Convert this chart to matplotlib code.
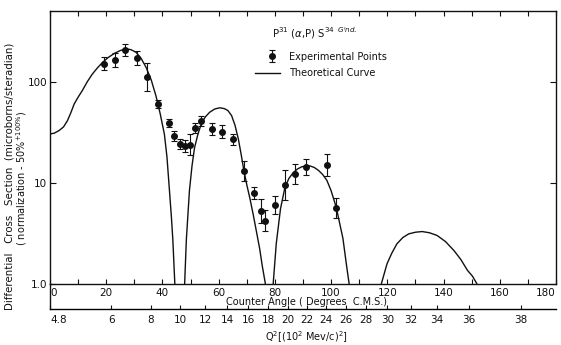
import numpy as np
import matplotlib
matplotlib.use("Agg")
import matplotlib.pyplot as plt
from matplotlib.lines import Line2D

# ---------------- data ----------------
exp_angle = [19.3, 23.1, 26.8, 30.8, 34.5, 38.3, 42.3, 44.0, 46.1, 48.0, 49.9, 51.5, 53.7,
             57.6, 61.3, 65.1, 68.9, 72.5, 75.2, 76.4, 80.0, 83.6, 87.1, 91.1, 98.5, 101.9]
exp_value = [150, 163, 206, 170, 111, 60, 39, 28.7, 24.2, 23, 23.8, 34.5, 41,
             34, 32, 26.7, 13.1, 7.9, 5.2, 4.2, 6.0, 9.5, 12.2, 14.2, 15.0, 5.6]
exp_err_dex = [0.066, 0.066, 0.06, 0.07, 0.14, 0.04, 0.04, 0.05, 0.05, 0.06, 0.10, 0.05, 0.05,
               0.06, 0.06, 0.05, 0.10, 0.06, 0.12, 0.10, 0.09, 0.15, 0.10, 0.08, 0.11, 0.10]

lobe1_angle = [0, 1.5, 3.2, 4.8, 6.2, 7.4, 8.6, 10.0, 11.5, 13.3, 15.1, 16.9, 18.7, 20.8, 22.9,
               25.0, 27.0, 28.8, 30.6, 32.4, 34.2, 36.0, 37.7, 39.2, 40.7, 41.6, 42.5, 43.2, 43.7, 44.4, 44.7]
lobe1_value = [30.3, 30.8, 32.7, 35.5, 41, 49, 60, 70, 81.5, 100, 119, 137, 155, 174, 190,
               203, 211, 207, 195, 170, 138, 104, 72, 48, 30, 18, 8.3, 4.5, 2.7, 1.0, 0.5]

lobe2_angle = [47.6, 47.9, 48.5, 49.6, 50.5, 51.4, 52.6, 53.8, 55.2, 56.8, 58.6, 60.4, 62.0, 63.3,
               64.6, 65.8, 67.0, 68.0, 68.9, 70.0, 71.1, 72.3, 73.5, 74.6, 75.5, 76.6, 76.9]
lobe2_value = [0.5, 1.0, 2.7, 8.3, 14.5, 22, 30, 38, 44.5, 49.7, 53.5, 55, 54, 51.6,
               46, 37, 27, 19, 13.5, 9.5, 7.0, 4.8, 3.2, 2.2, 1.5, 1.0, 0.5]

lobe3_angle = [79.1, 79.4, 80.5, 82.0, 83.6, 85.0, 86.5, 88.0, 89.5, 91.0, 92.5, 94.0, 95.5,
               97.0, 98.5, 100.0, 101.8, 103.0, 104.2, 105.5, 106.4, 106.7]
lobe3_value = [0.5, 1.0, 2.5, 5.5, 9.0, 11.0, 12.5, 13.6, 14.3, 14.6, 14.6, 14.1, 13.2,
               12.0, 10.5, 8.3, 5.7, 4.0, 2.8, 1.5, 1.0, 0.5]

lobe4_angle = [117.6, 117.9, 119.9, 121.6, 123.4, 125.5, 127.6, 130.0, 132.4, 135.0, 137.7,
               140.7, 143.7, 146.2, 148.5, 150.3, 151.8, 152.1]
lobe4_value = [0.5, 1.0, 1.57, 2.0, 2.47, 2.85, 3.1, 3.22, 3.27, 3.18, 2.99,
               2.6, 2.12, 1.72, 1.35, 1.18, 1.0, 0.9]

angle_ticks = list(range(0, 181, 10))
angle_labels = [str(a) if a % 20 == 0 else "" for a in angle_ticks]
q2_ticks = [4.8, 6, 8, 10, 12, 14, 16, 18, 20, 22, 24, 26, 28, 30, 32, 34, 36, 38]
q2_labels = ["4.8", "6", "8", "10", "12", "14", "16", "18", "20", "22", "24", "26",
             "28", "30", "32", "34", "36", "38"]
y_ticks = [1, 10, 100]
y_labels = ["1.0", "10", "100"]

# ---------------- figure ----------------
W, H = 561, 345
fig = plt.figure(figsize=(W / 100, H / 100), dpi=100)
left, right, top, bottom = 50, 556, 11, 283.5
ax = fig.add_axes([left / W, 1 - bottom / H, (right - left) / W, (bottom - top) / H])

ink = "#111111"
for xs, ys in [(lobe1_angle, lobe1_value), (lobe2_angle, lobe2_value),
               (lobe3_angle, lobe3_value), (lobe4_angle, lobe4_value)]:
    ax.plot(xs, ys, color=ink, lw=1.0, solid_joinstyle="round")

vals = np.array(exp_value)
errs = np.array(exp_err_dex)
lo = vals - vals / 10 ** errs
hi = vals * 10 ** errs - vals
ax.errorbar(exp_angle, exp_value, yerr=[lo, hi], fmt="o", color=ink, ms=4,
            elinewidth=0.8, capsize=2.5, capthick=0.8)

ax.set_yscale("log")
ax.set_xlim(0, 180)
ax.set_ylim(1.0, 500)
ax.set_xticks(angle_ticks)
ax.set_xticklabels(angle_labels)
ax.set_yticks(y_ticks)
ax.set_yticklabels(y_labels)
ax.yaxis.set_minor_locator(matplotlib.ticker.NullLocator())
ax.tick_params(axis="x", direction="in", top=True, length=3.5, width=0.8,
               labelsize=7.5, pad=3, colors=ink)
ax.tick_params(axis="y", direction="in", right=True, length=4, width=0.8,
               labelsize=7.5, pad=2, colors=ink)
for s in ax.spines.values():
    s.set_linewidth(1.0)
    s.set_color(ink)

labs = ax.get_xticklabels()
labs[0].set_ha("left")
labs[-1].set_ha("right")


def fwd(t):
    return 21.6 - 16.8 * np.cos(np.radians(t))


def inv(q):
    return np.degrees(np.arccos(np.clip((21.6 - np.asarray(q)) / 16.8, -1, 1)))


off = -(309 - bottom) / (bottom - top)
sec = ax.secondary_xaxis(off, functions=(fwd, inv))
sec.set_xticks(q2_ticks)
sec.set_xticklabels(q2_labels)
sec.tick_params(direction="in", length=3, width=0.8, labelsize=7.5, pad=4, colors=ink)
sec.spines["bottom"].set_linewidth(1.0)
sec.xaxis.set_minor_locator(matplotlib.ticker.NullLocator())
sl = sec.get_xticklabels()
sl[0].set_ha("left")

ax.add_line(Line2D([0, 0], [0, off], transform=ax.transAxes, color=ink, lw=1.0, clip_on=False))

fig.text(307 / W, 1 - 302 / H, "Counter Angle ( Degrees  C.M.S.)", ha="center", va="center",
         fontsize=7, color=ink)
fig.text(306 / W, 1 - 337 / H, r"Q$^2$[(10$^2$ Mev/c)$^2$]", ha="center", va="center",
         fontsize=7, color=ink)

fig.text(10 / W, 1 - 176 / H, "Differential   Cross   Section  (microborns/steradian)",
         rotation=90, ha="center", va="center", fontsize=7.4, color=ink)
fig.text(22 / W, 1 - 178 / H, r"( normalization - 50%$^{+100\%}$)",
         rotation=90, ha="center", va="center", fontsize=7, color=ink)

# legend-like annotations
fig.text(272 / W, 1 - 33 / H, r"P$^{31}$ ($\alpha$,P) S$^{34}$ $^{G'nd.}$", ha="left",
         va="center", fontsize=7.3, color=ink)
fig.text(289 / W, 1 - 57 / H, "Experimental Points", ha="left", va="center", fontsize=7, color=ink)
fig.text(289 / W, 1 - 73 / H, "Theoretical Curve", ha="left", va="center", fontsize=7, color=ink)

leg_ax = fig.add_axes([0, 0, 1, 1], facecolor="none")
leg_ax.set_xlim(0, W)
leg_ax.set_ylim(H, 0)
leg_ax.axis("off")
leg_ax.errorbar([272], [56], yerr=[[6], [6]], fmt="o", color=ink, ms=4,
                elinewidth=0.8, capsize=2.5, capthick=0.8)
leg_ax.plot([255, 280], [73, 73], color=ink, lw=1.0)

fig.savefig("out.png", dpi=100)
